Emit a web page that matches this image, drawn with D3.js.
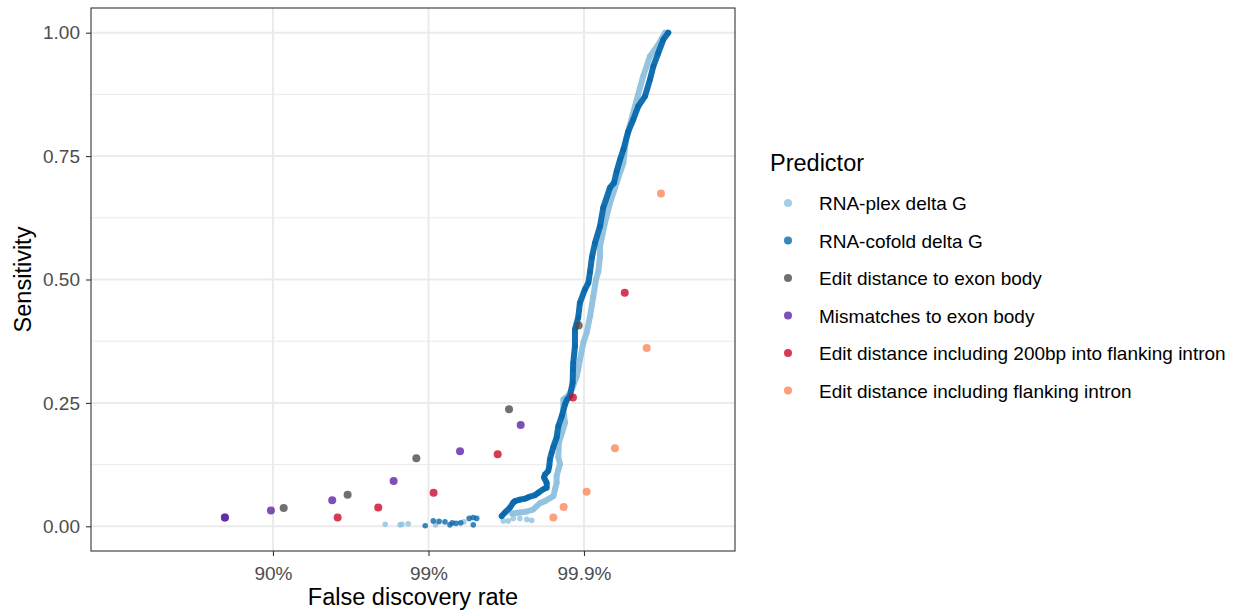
<!DOCTYPE html>
<html>
<head>
<meta charset="utf-8">
<script src="https://cdn.jsdelivr.net/npm/d3@7"></script>
<style>
  html, body { margin: 0; padding: 0; background: #ffffff; }
  svg { display: block; font-family: "Liberation Sans", Arial, Helvetica, sans-serif; }
</style>
</head>
<body>
<svg id="chart" width="1237" height="611"></svg>
<script>
// ---- data (x = -log10(1 - FDR), y = sensitivity) ----
const predictors = [
  "RNA-plex delta G",
  "RNA-cofold delta G",
  "Edit distance to exon body",
  "Mismatches to exon body",
  "Edit distance including 200bp into flanking intron",
  "Edit distance including flanking intron"
];
const xTickValues = [1, 2, 3];
const xTickLabels = ["90%", "99%", "99.9%"];
const yTickValues = [0, 0.25, 0.5, 0.75, 1];
const yTickLabels = ["0.00", "0.25", "0.50", "0.75", "1.00"];

const plexFdr = [1.722,1.817,1.830,1.870,2.046,2.228,2.481,2.513,2.545,2.588,2.632,2.664,
  2.537,2.588,2.633,2.672,2.696,2.717,2.749,2.781,2.803,2.814,2.824,2.824,2.835,2.846,2.835,2.836,2.839,
  2.859,2.878,2.867,2.867,2.899,2.921,2.931,2.953,2.963,2.974,2.996,3.017,3.039,3.060,3.077,3.092,3.103,
  3.103,3.135,3.167,3.210,3.253,3.270,3.296,3.339,3.381,3.424,3.478,3.521];
const plexSens = [0.004,0.003,0.004,0.005,0.003,0.009,0.011,0.011,0.016,0.016,0.014,0.012,
  0.026,0.028,0.030,0.034,0.041,0.047,0.051,0.057,0.061,0.075,0.088,0.102,0.115,0.126,0.140,0.156,0.170,
  0.190,0.210,0.237,0.257,0.265,0.277,0.285,0.304,0.318,0.338,0.372,0.392,0.426,0.466,0.500,0.516,0.547,
  0.567,0.615,0.655,0.696,0.736,0.783,0.814,0.864,0.912,0.952,0.976,1.000];

const cofoldFdr = [1.979,2.031,2.068,2.106,2.138,2.153,2.177,2.207,2.262,2.288,2.310,2.288,
  2.471,2.492,2.524,2.545,2.556,2.588,2.621,2.642,2.685,2.706,2.738,2.760,2.760,2.743,2.749,2.770,2.777,
  2.781,2.792,2.803,2.824,2.835,2.857,2.878,2.891,2.910,2.927,2.929,2.931,2.942,2.942,2.963,2.974,3.006,
  3.028,3.039,3.051,3.071,3.103,3.124,3.167,3.193,3.210,3.232,3.253,3.285,3.317,3.349,3.392,3.424,3.446,
  3.478,3.510,3.542];
const cofoldSens = [0.001,0.011,0.010,0.009,0.003,0.007,0.006,0.007,0.016,0.018,0.016,0.003,
  0.021,0.028,0.038,0.048,0.051,0.054,0.056,0.059,0.063,0.068,0.075,0.078,0.088,0.099,0.105,0.112,0.122,
  0.136,0.149,0.161,0.180,0.203,0.223,0.247,0.257,0.264,0.291,0.318,0.331,0.365,0.399,0.423,0.453,0.480,
  0.493,0.516,0.545,0.574,0.608,0.646,0.686,0.696,0.719,0.743,0.763,0.800,0.824,0.851,0.871,0.905,0.932,
  0.959,0.986,1.000];

const editExonFdr = [1.069, 1.480, 1.922, 2.518, 2.966];
const editExonSens = [0.037, 0.064, 0.138, 0.237, 0.407];

const mismatchFdr = [0.691, 0.691, 0.987, 1.381, 1.776, 2.203, 2.593];
const mismatchSens = [0.018, 0.018, 0.032, 0.053, 0.092, 0.152, 0.205];

const edit200Fdr = [1.416, 1.677, 2.033, 2.445, 2.929, 3.262];
const edit200Sens = [0.018, 0.038, 0.068, 0.146, 0.261, 0.473];

const editFlankFdr = [2.803, 2.869, 3.017, 3.199, 3.403, 3.495];
const editFlankSens = [0.018, 0.039, 0.070, 0.158, 0.361, 0.674];

// ---- styles ----
const colors = ["#8fc1de", "#0868ac", "#4c4c4c", "#5f23a6", "#cc092a", "#fb8859"];
const pointAlpha = 0.8;

const svg = d3.select("#chart");
const W = 1237, H = 611;
svg.append("rect").attr("width", W).attr("height", H).attr("fill", "#ffffff");

const panel = {left: 91, right: 735, top: 8, bottom: 551};
const x = d3.scaleLinear().domain([-0.170, 3.971]).range([panel.left, panel.right]);
const y = d3.scaleLinear().domain([-0.05, 1.05]).range([panel.bottom, panel.top]);

const g = svg.append("g");

// grid
const yMinor = [0.125, 0.375, 0.625, 0.875];
g.selectAll("line.ymin").data(yMinor).enter().append("line")
  .attr("x1", panel.left).attr("x2", panel.right)
  .attr("y1", d => y(d)).attr("y2", d => y(d))
  .attr("stroke", "#ebebeb").attr("stroke-width", 1);
g.selectAll("line.ymaj").data(yTickValues).enter().append("line")
  .attr("x1", panel.left).attr("x2", panel.right)
  .attr("y1", d => y(d)).attr("y2", d => y(d))
  .attr("stroke", "#ebebeb").attr("stroke-width", 2);
g.selectAll("line.xmaj").data(xTickValues).enter().append("line")
  .attr("y1", panel.top).attr("y2", panel.bottom)
  .attr("x1", d => x(d)).attr("x2", d => x(d))
  .attr("stroke", "#ebebeb").attr("stroke-width", 2);

// curve series
function drawCurve(fdr, sens, color) {
  const pts = fdr.map((f, i) => ({f, s: sens[i]}));
  g.append("g").selectAll("circle").data(pts).enter().append("circle")
    .attr("cx", d => x(d.f)).attr("cy", d => y(d.s)).attr("r", 2.8)
    .attr("fill", color).attr("fill-opacity", pointAlpha);
  const dense = pts.filter(d => d.s >= 0.02);
  const line = d3.line().x(d => x(d.f)).y(d => y(d.s));
  g.append("path").attr("d", line(dense))
    .attr("fill", "none").attr("stroke", color).attr("stroke-width", 6)
    .attr("stroke-linejoin", "round").attr("stroke-linecap", "round")
    .attr("stroke-opacity", 0.95);
}
drawCurve(plexFdr, plexSens, colors[0]);
drawCurve(cofoldFdr, cofoldSens, colors[1]);

// discrete predictors
const discrete = [
  [editExonFdr, editExonSens, colors[2]],
  [mismatchFdr, mismatchSens, colors[3]],
  [edit200Fdr, edit200Sens, colors[4]],
  [editFlankFdr, editFlankSens, colors[5]]
];
discrete.forEach(([fdr, sens, color]) => {
  g.append("g").selectAll("circle").data(fdr.map((f, i) => ({f, s: sens[i]}))).enter()
    .append("circle")
    .attr("cx", d => x(d.f)).attr("cy", d => y(d.s)).attr("r", 4)
    .attr("fill", color).attr("fill-opacity", pointAlpha);
});

// panel border
svg.append("rect")
  .attr("x", panel.left).attr("y", panel.top)
  .attr("width", panel.right - panel.left).attr("height", panel.bottom - panel.top)
  .attr("fill", "none").attr("stroke", "#333333").attr("stroke-width", 1.1);

// axes
const xAxis = d3.axisBottom(x).tickValues(xTickValues)
  .tickFormat((d, i) => xTickLabels[i]).tickSize(5).tickPadding(11);
const xa = svg.append("g").attr("transform", `translate(0,${panel.bottom})`).call(xAxis);
xa.select(".domain").remove();
xa.selectAll(".tick line").attr("stroke", "#333333").attr("stroke-width", 1.1);
xa.selectAll(".tick text").attr("fill", "#4d4d4d").style("font-size", "19px")
  .style("font-family", "'Liberation Sans', Arial, sans-serif");

const yAxis = d3.axisLeft(y).tickValues(yTickValues)
  .tickFormat((d, i) => yTickLabels[i]).tickSize(5).tickPadding(6);
const ya = svg.append("g").attr("transform", `translate(${panel.left},0)`).call(yAxis);
ya.select(".domain").remove();
ya.selectAll(".tick line").attr("stroke", "#333333").attr("stroke-width", 1.1);
ya.selectAll(".tick text").attr("fill", "#4d4d4d").style("font-size", "19px")
  .style("font-family", "'Liberation Sans', Arial, sans-serif");

// axis titles
svg.append("text").attr("x", (panel.left + panel.right) / 2).attr("y", 605)
  .attr("text-anchor", "middle").attr("fill", "#000").style("font-size", "23.5px")
  .text("False discovery rate");
svg.append("text").attr("transform", `translate(31,${(panel.top + panel.bottom) / 2}) rotate(-90)`)
  .attr("text-anchor", "middle").attr("fill", "#000").style("font-size", "23.5px")
  .text("Sensitivity");

// legend
const leg = svg.append("g");
leg.append("text").attr("x", 770).attr("y", 171).attr("fill", "#000")
  .style("font-size", "23.5px").text("Predictor");
predictors.forEach((p, i) => {
  const ky = 203 + i * 37.5;
  leg.append("circle").attr("cx", 788).attr("cy", ky).attr("r", 4)
    .attr("fill", colors[i]).attr("fill-opacity", pointAlpha);
  leg.append("text").attr("x", 819).attr("y", ky + 7).attr("fill", "#000")
    .style("font-size", "19px").text(p);
});
</script>
</body>
</html>
